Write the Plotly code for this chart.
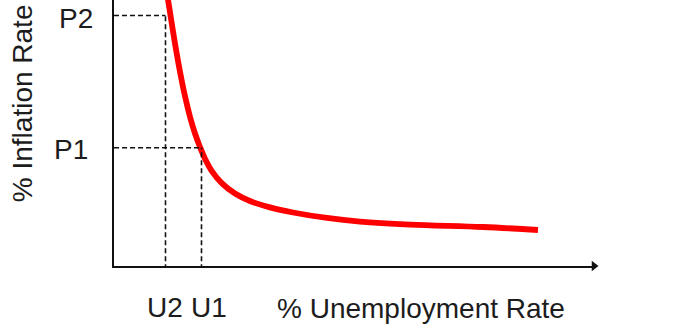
import plotly.graph_objects as go

# Phillips curve (arbitrary units)
curve_u = [1.104, 1.1667, 1.2708, 1.375, 1.479, 1.583, 1.6875, 1.7917, 1.896, 2.0417,
           2.25, 2.521, 2.833, 3.25, 3.729, 4.4375, 5.125, 6.1667, 7.6875, 8.833]
curve_inflation = [10.263, 9.539, 8.365, 7.303, 6.382, 5.611, 4.981, 4.474, 4.032, 3.558,
                   3.107, 2.726, 2.444, 2.203, 2.011, 1.805, 1.669, 1.556, 1.466, 1.353]

U2, U1 = 1.073, 1.823
P1, P2 = 4.447, 9.417
u_labels = ["U2", "U1"]
p_labels = ["P1", "P2"]
x_title = "% Unemployment Rate"
y_title = "% Inflation Rate"
x_max, y_max = 10.0, 10.0

FONT = "Liberation Sans, Arial, sans-serif"
TXT = "#1c1c1c"
DASH = "5px,3px"
FS = 28

fig = go.Figure()

# dashed guide lines
for (u, p) in [(U2, P2), (U1, P1)]:
    fig.add_shape(type="line", x0=0, x1=u, y0=p, y1=p, xref="x", yref="y",
                  line=dict(color="#111", width=1.6, dash=DASH))
    fig.add_shape(type="line", x0=u, x1=u, y0=-0.12, y1=p, xref="x", yref="y",
                  line=dict(color="#111", width=1.6, dash=DASH))

fig.add_trace(go.Scatter(x=curve_u, y=curve_inflation, mode="lines",
                         line=dict(color="#ff0000", width=5.8, shape="spline", smoothing=1.0),
                         hoverinfo="skip"))

# arrow head on the x axis
fig.add_trace(go.Scatter(x=[x_max], y=[0], mode="markers",
                         marker=dict(symbol="triangle-right", size=9, color="#111"),
                         cliponaxis=False, hoverinfo="skip"))

ann = []
ann.append(dict(x=U2, y=0, xref="x", yref="y", text=u_labels[0], showarrow=False,
                yshift=-41, xshift=-1, font=dict(size=FS, color=TXT, family=FONT)))
ann.append(dict(x=U1, y=0, xref="x", yref="y", text=u_labels[1], showarrow=False,
                yshift=-41, xshift=7, font=dict(size=FS, color=TXT, family=FONT)))
ann.append(dict(x=0, y=P1, xref="x", yref="y", text=p_labels[0], showarrow=False,
                xanchor="right", xshift=-24, yshift=-2, font=dict(size=FS, color=TXT, family=FONT)))
ann.append(dict(x=0, y=P2, xref="x", yref="y", text=p_labels[1], showarrow=False,
                xanchor="right", xshift=-19, yshift=-3, font=dict(size=FS, color=TXT, family=FONT)))
ann.append(dict(x=6.4, y=0, xref="x", yref="y", text=x_title, showarrow=False,
                yshift=-42, font=dict(size=FS, color=TXT, family=FONT)))
ann.append(dict(x=0, y=6.12, xref="x", yref="y", text=y_title, showarrow=False,
                textangle=-90, xshift=-92, font=dict(size=FS, color=TXT, family=FONT)))

fig.update_layout(
    width=678, height=328,
    margin=dict(l=114, r=84, t=0, b=62),
    paper_bgcolor="white", plot_bgcolor="white",
    showlegend=False,
    annotations=ann,
    xaxis=dict(range=[0, x_max], showgrid=False, zeroline=False, showticklabels=False,
               ticks="", showline=True, linecolor="#111", linewidth=1.5, fixedrange=True),
    yaxis=dict(range=[0, y_max], showgrid=False, zeroline=False, showticklabels=False,
               ticks="", showline=True, linecolor="#111", linewidth=1.5, fixedrange=True),
)

fig.write_html("out.html", config={"displayModeBar": False})
